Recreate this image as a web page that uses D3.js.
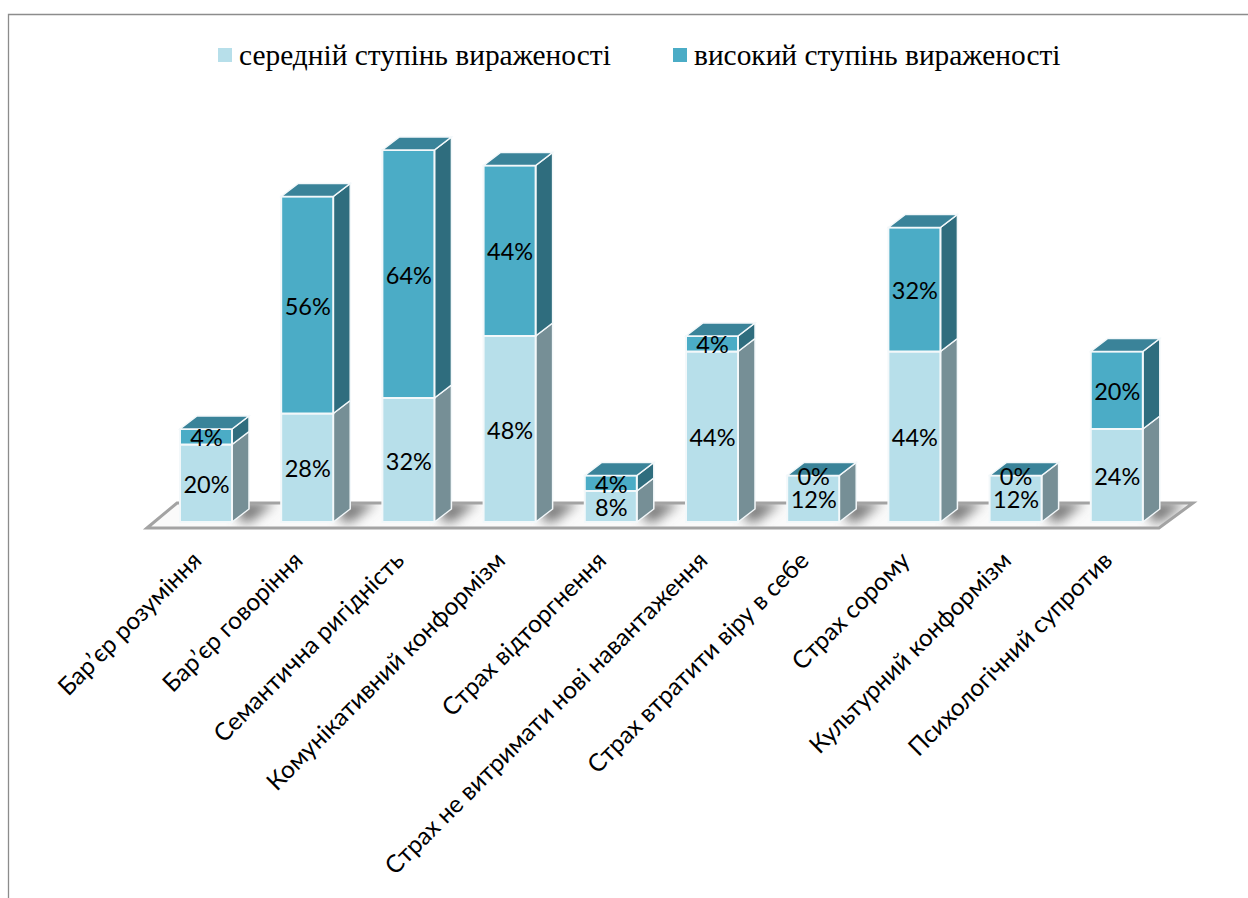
<!DOCTYPE html>
<html>
<head>
<meta charset="utf-8">
<script src="https://cdn.jsdelivr.net/npm/d3@7"></script>
<style>
  html, body { margin: 0; padding: 0; background: #fff; }
  svg { display: block; }
</style>
</head>
<body>
<svg id="chart" width="1248" height="898"></svg>
<script>
const categories = [
  'Барʼєр розуміння',
  'Барʼєр говоріння',
  'Семантична ригідність',
  'Комунікативний конформізм',
  'Страх відторгнення',
  'Страх не витримати нові навантаження',
  'Страх втратити віру в себе',
  'Страх сорому',
  'Культурний конформізм',
  'Психологічний супротив',
]
const seriesNames = ['середній ступінь вираженості', 'високий ступінь вираженості']
const medium = [20, 28, 32, 48, 8, 44, 12, 44, 12, 24]
const high = [4, 56, 64, 44, 4, 4, 0, 32, 0, 20]

const labelFont = 'Lato, Carlito, "Open Sans", sans-serif'
const colors = [
  {front: '#b7dfea', side: '#768f96', top: '#b7dfea'},
  {front: '#4bacc6', side: '#2f6d7e', top: '#3a8399'},
]

const svg = d3.select('#chart')

// 外框，只有上边和左边
svg.append('path')
  .attr('d', 'M1248,14.5H8.5V898')
  .attr('fill', 'none')
  .attr('stroke', '#8c8c8c')
  .attr('stroke-width', 1.3)

const baseY = 522
const depthX = 17
const depthY = 13

const x = d3.scaleBand()
  .domain(categories)
  .range([155.4, 1167.4])
  .paddingInner(0.486)
  .paddingOuter(0.243)

const y = d3.scaleLinear().domain([0, 100]).range([baseY, baseY - 387.5])

const rows = categories.map((name, i) => ({name, medium: medium[i], high: high[i]}))
const stacked = d3.stack().keys(['medium', 'high'])(rows)

const defs = svg.append('defs')
defs.append('filter').attr('id', 'blur')
  .attr('x', '-50%').attr('y', '-50%').attr('width', '200%').attr('height', '200%')
  .append('feGaussianBlur').attr('stdDeviation', 6)

const floorPoints = [[147, 528], [177, 503], [1193, 503], [1159, 528]]
defs.append('clipPath').attr('id', 'floorClip')
  .append('polygon').attr('points', floorPoints.join(' '))

// 底座
svg.append('polygon')
  .attr('points', floorPoints.join(' '))
  .attr('fill', '#fafafa')
svg.append('g')
  .attr('clip-path', 'url(#floorClip)')
  .selectAll('polygon')
  .data(categories)
  .join('polygon')
  .attr('points', (d) => {
    const right = x(d) + x.bandwidth() + depthX
    return [[right - 10, baseY - 20], [right + 26, baseY - 20], [right + 2, baseY], [right - 10, baseY]].join(' ')
  })
  .attr('fill', '#7a7a7a')
  .attr('filter', 'url(#blur)')
svg.append('polygon')
  .attr('points', floorPoints.join(' '))
  .attr('fill', 'none')
  .attr('stroke', '#a3a3a3')
  .attr('stroke-width', 3)

// 柱子：每段三个面
const layers = svg.append('g')
  .selectAll('g')
  .data(stacked)
  .join('g')

const segment = layers.selectAll('g')
  .data((s, k) => s.map((d) => ({d, k})).filter((e) => e.d[1] > e.d[0]))
  .join('g')

segment.append('polygon')
  .attr('points', ({d}) => {
    const r = x(d.data.name) + x.bandwidth()
    return [[r, y(d[0])], [r + depthX, y(d[0]) - depthY], [r + depthX, y(d[1]) - depthY], [r, y(d[1])]].join(' ')
  })
  .attr('fill', ({k}) => colors[k].side)
  .attr('stroke', '#f3f8fa')
  .attr('stroke-width', 1.5)

segment.append('rect')
  .attr('x', ({d}) => x(d.data.name))
  .attr('y', ({d}) => y(d[1]))
  .attr('width', x.bandwidth())
  .attr('height', ({d}) => y(d[0]) - y(d[1]))
  .attr('fill', ({k}) => colors[k].front)
  .attr('stroke', '#f3f8fa')
  .attr('stroke-width', 2)

// 顶面
svg.append('g')
  .selectAll('polygon')
  .data(categories)
  .join('polygon')
  .attr('points', (d, i) => {
    const l = x(d)
    const r = l + x.bandwidth()
    const t = y(medium[i] + high[i])
    return [[l, t], [l + depthX, t - depthY], [r + depthX, t - depthY], [r, t]].join(' ')
  })
  .attr('fill', colors[1].top)
  .attr('stroke', '#f3f8fa')
  .attr('stroke-width', 1.5)

// 数值标签
svg.append('g')
  .selectAll('text')
  .data(stacked.flatMap((s) => s.map((d) => d)))
  .join('text')
  .attr('x', (d) => x(d.data.name) + x.bandwidth() / 2 + 0.5)
  .attr('y', (d) => (y(d[0]) + y(d[1])) / 2 + 1.5)
  .attr('dy', '0.35em')
  .attr('text-anchor', 'middle')
  .attr('font-family', labelFont)
  .attr('font-size', 23.5)
  .attr('fill', '#000')
  .text((d) => `${d[1] - d[0]}%`)

// 横轴标签
const axis = svg.append('g')
  .attr('transform', `translate(-9, 556)`)
  .call(d3.axisBottom(x).tickSize(0).tickPadding(0))
axis.select('.domain').remove()
axis.selectAll('text')
  .attr('font-family', labelFont)
  .attr('font-size', 24.4)
  .attr('fill', '#000')
  .attr('text-anchor', 'end')
  .attr('dy', '0.35em')
  .attr('transform', 'rotate(-45)')

// 图例
const legendX = [218, 673]
const legend = svg.append('g')
  .selectAll('g')
  .data(seriesNames)
  .join('g')
  .attr('transform', (d, i) => `translate(${legendX[i]}, 48)`)
legend.append('rect')
  .attr('width', 14)
  .attr('height', 14)
  .attr('fill', (d, i) => colors[i].front)
legend.append('text')
  .attr('x', 21)
  .attr('y', 17)
  .attr('font-family', '"Liberation Serif", serif')
  .attr('font-size', 29.4)
  .attr('fill', '#000')
  .text((d) => d)
</script>
</body>
</html>
